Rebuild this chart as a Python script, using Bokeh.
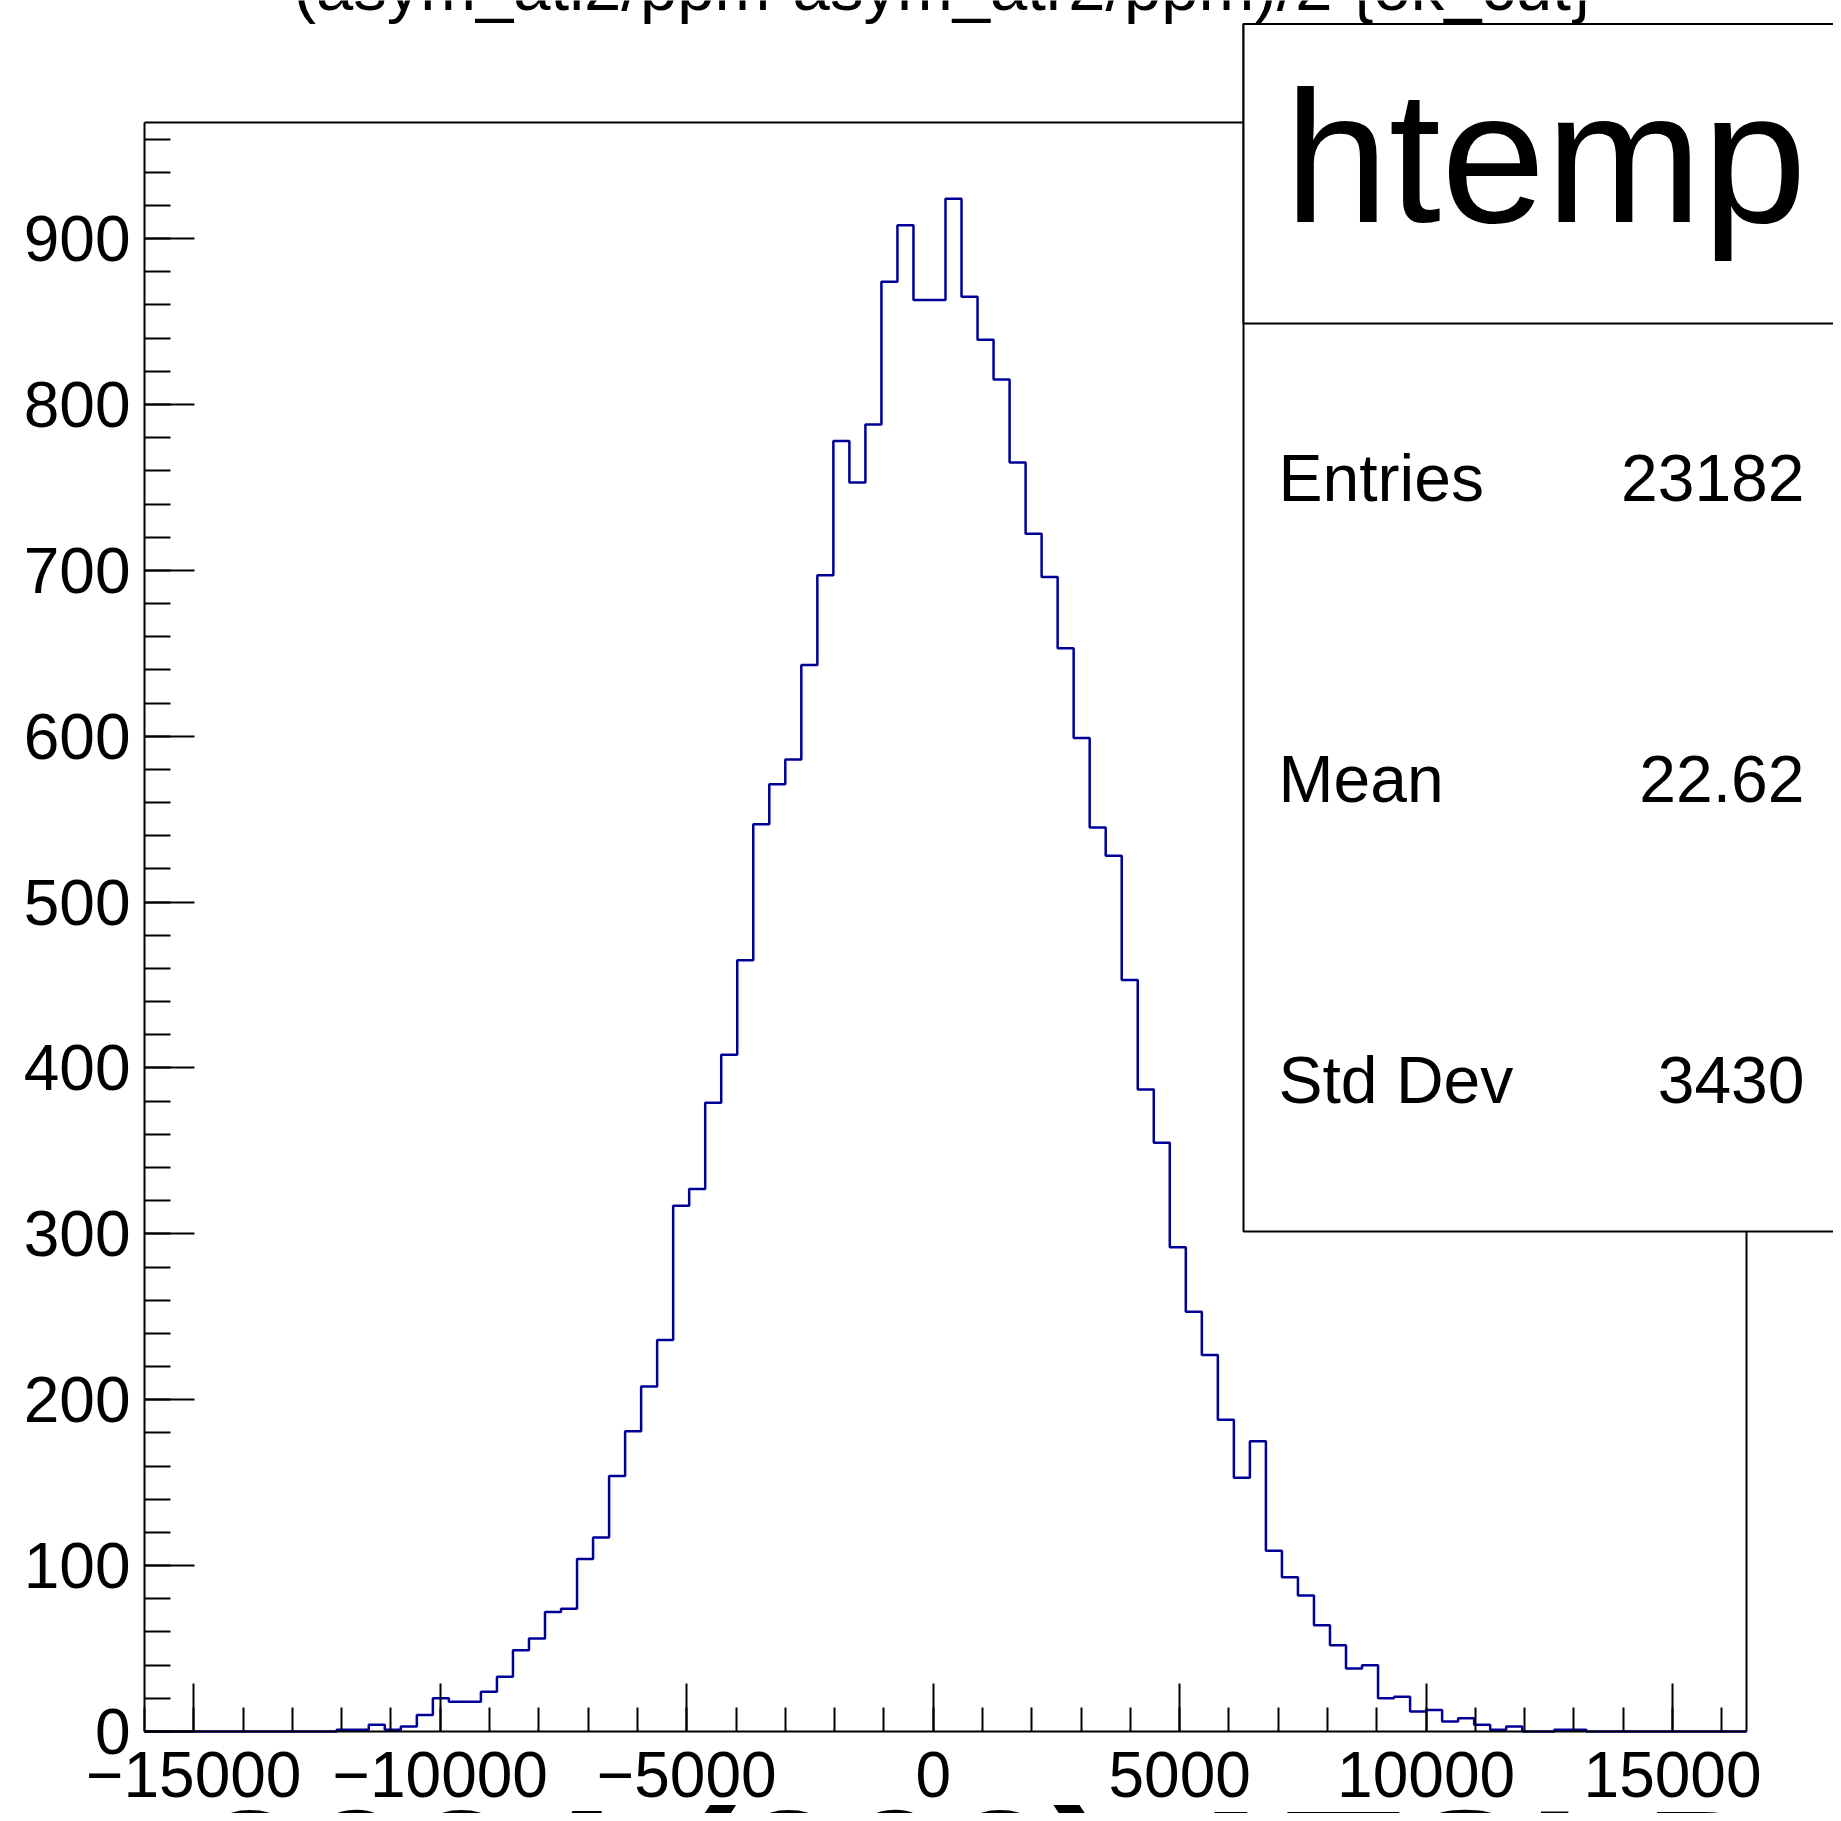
import numpy as np
from bokeh.plotting import figure
from bokeh.models import Range1d, FixedTicker, Label, BoxAnnotation
from bokeh.embed import file_html
from bokeh.resources import INLINE

# ---------------- data ----------------
x_min, x_max, n_bins = -16000, 16500, 100
counts = [0, 0, 0, 0, 0, 0, 0, 0, 0, 0,
          0, 0, 1, 1, 4, 1, 3, 10, 20, 18,
          18, 24, 33, 49, 56, 72, 74, 104, 117, 154,
          181, 208, 236, 317, 327, 379, 408, 465, 547, 571,
          586, 643, 697, 778, 753, 788, 874, 908, 863, 863,
          924, 865, 839, 815, 765, 722, 696, 653, 599, 545,
          528, 453, 387, 355, 292, 253, 227, 188, 153, 175,
          109, 93, 82, 64, 52, 38, 40, 20, 21, 12,
          13, 6, 8, 4, 1, 3, 0, 0, 1, 1,
          0, 0, 0, 0, 0, 0, 0, 0, 0, 0]
y_max = 970

x_major = [-15000, -10000, -5000, 0, 5000, 10000, 15000]
x_minor = list(range(-16000, 16001, 1000))
y_major = list(range(0, 901, 100))
y_minor = list(range(0, 961, 20))

title_text = "(asym_atl2/ppm-asym_atr2/ppm)/2 {ok_cut}"
x_title = "2024 (202) ATSLD"
stats_name = "htemp"
stats_labels = ["Entries", "Mean", "Std Dev"]
stats_values = ["23182", "22.62", "3430"]

# ---------------- layout ----------------
W, H = 1833, 1813
FONT = "Liberation Sans"
FR_L, FR_R, FR_T, FR_B = 144, 1746, 122, 1731   # ROOT frame edges in picture pixels
BASE_SHIFT = 0.37                                # label baseline correction (fraction of font size)

ux = (x_max - x_min) / (FR_R - FR_L)
uy = y_max / (FR_B - FR_T)
x_lo = x_min - FR_L * ux
x_hi = x_max + (W - FR_R) * ux
y_lo = 0 - (H - FR_B) * uy
y_hi = y_max + FR_T * uy


def sx(X):
    return X


def sy(Y):
    return H - Y


def base(Y, fs):
    return sy(Y - BASE_SHIFT * fs)


p = figure(width=W, height=H, x_range=Range1d(x_lo, x_hi), y_range=Range1d(y_lo, y_hi),
           output_backend="svg", toolbar_location=None, title=None,
           min_border_left=0, min_border_right=0, min_border_top=0, min_border_bottom=0)
p.background_fill_color = "white"
p.border_fill_color = "white"
p.outline_line_color = None
p.grid.visible = False

# frame top / right edges
p.segment(x0=[x_min, x_max], y0=[y_max, 0], x1=[x_max, x_max], y1=[y_max, y_max],
          line_color="black", line_width=2)

# histogram outline (ROOT style steps)
edges = np.linspace(x_min, x_max, n_bins + 1)
cvals = np.array(counts, dtype=float)
hx = np.repeat(edges, 2)[1:-1]
hy = np.repeat(cvals, 2)
p.line(hx, hy, line_color="#000099", line_width=2.5)

# axes, pinned at the ROOT frame edges
p.xaxis.fixed_location = 0
p.yaxis.fixed_location = x_min
p.xaxis.bounds = (x_min, x_max)
p.yaxis.bounds = (0, y_max)
p.xaxis.ticker = FixedTicker(ticks=x_major, minor_ticks=x_minor)
p.yaxis.ticker = FixedTicker(ticks=y_major, minor_ticks=y_minor)
p.xaxis.major_label_overrides = {v: (str(v).replace("-", "\u2212")) for v in x_major}
for ax, mj, mn, so in ((p.xaxis, 48, 24, 20), (p.yaxis, 50, 26, 14)):
    ax.major_tick_in = mj
    ax.major_tick_out = 0
    ax.minor_tick_in = mn
    ax.minor_tick_out = 0
    ax.axis_line_width = 2
    ax.axis_line_color = "black"
    ax.major_tick_line_width = 2
    ax.minor_tick_line_width = 2
    ax.major_tick_line_color = "black"
    ax.minor_tick_line_color = "black"
    ax.major_label_text_font = FONT
    ax.major_label_text_font_size = "64px"
    ax.major_label_text_color = "black"
    ax.major_label_standoff = so

# stats box
box_kw = dict(left_units="screen", right_units="screen", top_units="screen", bottom_units="screen",
              fill_color="white", fill_alpha=1.0, line_color="black", line_width=2, line_alpha=1.0)
p.add_layout(BoxAnnotation(left=sx(1243), right=sx(1900), top=sy(23.6), bottom=sy(1231), **box_kw))
p.add_layout(BoxAnnotation(left=sx(1243), right=sx(1900), top=sy(23.6), bottom=sy(323), **box_kw))

lab_kw = dict(x_units="screen", y_units="screen", text_font=FONT, text_color="black",
              text_baseline="alphabetic")
fs_name, fs_stat, fs_title, fs_xt = 188, 66, 67, 190
p.add_layout(Label(x=sx(1545), y=base(226, fs_name), text=stats_name, text_align="center",
                   text_font_size=f"{fs_name}px", **lab_kw))
for i, (name, val) in enumerate(zip(stats_labels, stats_values)):
    yb = 502 + i * 300.8
    p.add_layout(Label(x=sx(1278), y=base(yb, fs_stat), text=name, text_align="left",
                       text_font_size=f"{fs_stat}px", **lab_kw))
    p.add_layout(Label(x=sx(1804), y=base(yb, fs_stat), text=val, text_align="right",
                       text_font_size=f"{fs_stat}px", **lab_kw))

# title (cut at top) and huge x-axis title (cut at bottom)
p.add_layout(Label(x=sx(943), y=base(11, fs_title), text=title_text, text_align="center",
                   text_font_size=f"{fs_title}px", **lab_kw))
p.add_layout(Label(x=sx(197), y=base(1946, fs_xt), text=x_title, text_align="left",
                   text_font_size=f"{fs_xt}px", text_font_style="bold", **lab_kw))

open("out.html", "w").write(file_html(p, INLINE))
